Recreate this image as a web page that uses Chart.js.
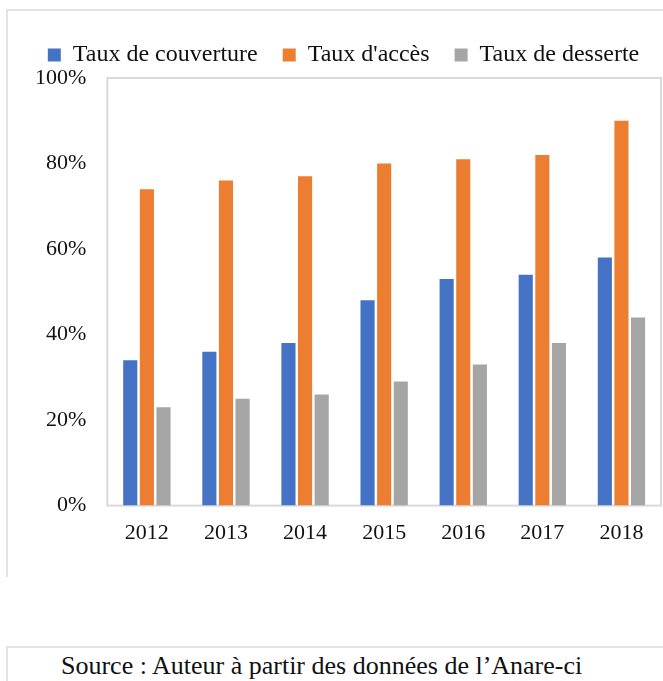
<!DOCTYPE html>
<html>
<head>
<meta charset="utf-8">
<script src="https://cdn.jsdelivr.net/npm/chart.js@4.4.0/dist/chart.umd.min.js"></script>
<style>
  html, body { margin: 0; padding: 0; background: #fff; }
  body { width: 663px; height: 681px; position: relative; overflow: hidden; font-family: "Liberation Serif", "Times New Roman", "DejaVu Serif", serif; }
  .line { position: absolute; background: #e3e3e3; }
  #wrap { position: absolute; left: 8px; top: 12px; width: 655px; height: 565px; }
  #source { position: absolute; left: 61px; top: 651px; font-size: 26px; color: #111; white-space: nowrap; }
</style>
</head>
<body>
<div class="line" style="left:6px;top:9px;width:657px;height:2px;"></div>
<div class="line" style="left:6px;top:9px;width:2px;height:568px;"></div>
<div class="line" style="left:6px;top:646px;width:657px;height:2px;"></div>
<div class="line" style="left:6px;top:646px;width:2px;height:35px;"></div>
<div id="wrap"><canvas id="bars"></canvas></div>
<div id="source">Source : Auteur à partir des données de l’Anare-ci</div>
<script>
// values (percent)
const years = ['2012', '2013', '2014', '2015', '2016', '2017', '2018'];
const couverture = [34, 36, 38, 48, 53, 54, 58];
const acces = [74, 76, 77, 80, 81, 82, 90];
const desserte = [23, 25, 26, 29, 33, 38, 44];
const yTicks = [0, 20, 40, 60, 80, 100];

const serif = '"Liberation Serif", "Times New Roman", "DejaVu Serif", serif';

// light grey frame round the plot area
const plotFrame = {
  id: 'plotFrame',
  beforeDatasetsDraw(chart) {
    const a = chart.chartArea;
    const ctx = chart.ctx;
    ctx.save();
    ctx.strokeStyle = '#d9d9d9';
    ctx.lineWidth = 2;
    ctx.strokeRect(a.left, a.top, a.right - a.left, a.bottom - a.top);
    ctx.restore();
  }
};

// legend: a bit more room below it, and nudged right like the original
const legendTweak = {
  id: 'legendTweak',
  beforeInit(chart) {
    const fit = chart.legend.fit;
    chart.legend.fit = function () {
      fit.bind(chart.legend)();
      this.height += 1;
    };
  },
  afterLayout(chart) {
    chart.legend.left += 6;
    chart.legend.right += 6;
  }
};

function createChart() {
  const ctx = document.getElementById('bars');
  new Chart(ctx, {
    type: 'bar',
    data: {
      labels: years,
      datasets: [
        { label: 'Taux de couverture', data: couverture, backgroundColor: '#4472C4' },
        { label: "Taux d'accès", data: acces, backgroundColor: '#ED7D31' },
        { label: 'Taux de desserte', data: desserte, backgroundColor: '#A5A5A5' }
      ]
    },
    options: {
      responsive: true,
      maintainAspectRatio: false,
      animation: false,
      categoryPercentage: 0.63,
      barPercentage: 0.85,
      layout: { padding: { top: 6, right: 2, left: 6, bottom: 17 } },
      plugins: {
        tooltip: { enabled: false },
        legend: {
          position: 'top',
          labels: {
            boxWidth: 13,
            boxHeight: 13,
            padding: 25,
            color: '#111',
            font: { family: serif, size: 24 }
          }
        }
      },
      scales: {
        x: {
          grid: { display: false, drawTicks: false },
          border: { display: false },
          ticks: { color: '#111', padding: 14, font: { family: serif, size: 22 } }
        },
        y: {
          min: 0,
          max: 100,
          afterBuildTicks(axis) {
            axis.ticks = yTicks.map((v) => ({ value: v }));
          },
          grid: { display: false, drawTicks: false },
          border: { display: false },
          ticks: {
            color: '#111',
            padding: 21,
            font: { family: serif, size: 22 },
            callback: (v) => v + '%'
          }
        }
      }
    },
    plugins: [plotFrame, legendTweak]
  });
}

document.addEventListener('DOMContentLoaded', () => {
  createChart();
});
</script>
</body>
</html>
